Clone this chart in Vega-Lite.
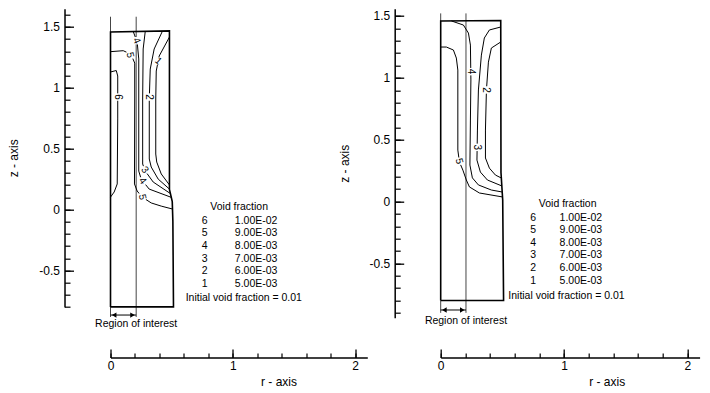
{
  "$schema": "https://vega.github.io/schema/vega-lite/v6.json",
  "padding": {"left": 7.5, "top": 8.7, "right": 0, "bottom": 0},
  "background": "white",
  "bounds": "flush",
  "spacing": 73.2,
  "config": {
    "view": {"stroke": null},
    "font": "Liberation Sans",
    "axis": {"grid": false, "domainColor": "black", "tickColor": "black", "labelColor": "black", "titleColor": "black", "titleFontWeight": "normal", "labelFont": "Liberation Sans", "titleFont": "Liberation Sans", "labelOverlap": false, "labelFlush": false}
  },
  "datasets": {
    "Lbox": [
      {"i": 0, "r": 0, "z": -0.8}, {"i": 1, "r": 0, "z": 1.458}, {"i": 2, "r": 0.482, "z": 1.468}, {"i": 3, "r": 0.482, "z": 0.166},
      {"i": 4, "r": 0.505, "z": 0.065}, {"i": 5, "r": 0.51, "z": -0.097}, {"i": 6, "r": 0.515, "z": -0.8}, {"i": 7, "r": 0, "z": -0.8}
    ],
    "Lc": [
      {"c": 1, "i": 0, "r": 0.482, "z": 1.417}, {"c": 1, "i": 1, "r": 0.398, "z": 1.261}, {"c": 1, "i": 2, "r": 0.374, "z": 1.138}, {"c": 1, "i": 3, "r": 0.37, "z": 0.908},
      {"c": 1, "i": 4, "r": 0.37, "z": 0.456}, {"c": 1, "i": 5, "r": 0.378, "z": 0.39}, {"c": 1, "i": 6, "r": 0.415, "z": 0.292}, {"c": 1, "i": 7, "r": 0.482, "z": 0.202},
      {"c": 2, "i": 0, "r": 0.423, "z": 1.462}, {"c": 2, "i": 1, "r": 0.357, "z": 1.319}, {"c": 2, "i": 2, "r": 0.325, "z": 1.154}, {"c": 2, "i": 3, "r": 0.317, "z": 0.908},
      {"c": 2, "i": 4, "r": 0.317, "z": 0.415}, {"c": 2, "i": 5, "r": 0.333, "z": 0.349}, {"c": 2, "i": 6, "r": 0.39, "z": 0.25}, {"c": 2, "i": 7, "r": 0.482, "z": 0.168},
      {"c": 3, "i": 0, "r": 0.284, "z": 1.463}, {"c": 3, "i": 1, "r": 0.267, "z": 1.319}, {"c": 3, "i": 2, "r": 0.263, "z": 0.908}, {"c": 3, "i": 3, "r": 0.263, "z": 0.374},
      {"c": 3, "i": 4, "r": 0.284, "z": 0.316}, {"c": 3, "i": 5, "r": 0.349, "z": 0.226}, {"c": 3, "i": 6, "r": 0.49, "z": 0.131},
      {"c": 4, "i": 0, "r": 0.186, "z": 1.462}, {"c": 4, "i": 1, "r": 0.218, "z": 1.376}, {"c": 4, "i": 2, "r": 0.231, "z": 1.237}, {"c": 4, "i": 3, "r": 0.231, "z": 0.908},
      {"c": 4, "i": 4, "r": 0.231, "z": 0.316}, {"c": 4, "i": 5, "r": 0.251, "z": 0.25}, {"c": 4, "i": 6, "r": 0.316, "z": 0.168}, {"c": 4, "i": 7, "r": 0.497, "z": 0.1},
      {"c": 5, "i": 0, "r": 0, "z": 1.297}, {"c": 5, "i": 1, "r": 0.104, "z": 1.305}, {"c": 5, "i": 2, "r": 0.145, "z": 1.286}, {"c": 5, "i": 3, "r": 0.177, "z": 1.253},
      {"c": 5, "i": 4, "r": 0.198, "z": 1.203}, {"c": 5, "i": 5, "r": 0.198, "z": 0.908}, {"c": 5, "i": 6, "r": 0.196, "z": 0.21}, {"c": 5, "i": 7, "r": 0.218, "z": 0.152},
      {"c": 5, "i": 8, "r": 0.259, "z": 0.102}, {"c": 5, "i": 9, "r": 0.333, "z": 0.054}, {"c": 5, "i": 10, "r": 0.415, "z": 0.028}, {"c": 5, "i": 11, "r": 0.507, "z": 0.004},
      {"c": 6, "i": 0, "r": 0, "z": 1.13}, {"c": 6, "i": 1, "r": 0.047, "z": 1.142}, {"c": 6, "i": 2, "r": 0.059, "z": 1.097}, {"c": 6, "i": 3, "r": 0.059, "z": 0.744},
      {"c": 6, "i": 4, "r": 0.055, "z": 0.21}, {"c": 6, "i": 5, "r": 0.03, "z": 0.144}, {"c": 6, "i": 6, "r": 0, "z": 0.102}
    ],
    "Lv": [
      {"r": 0, "z": 1.458, "z2": 1.584}, {"r": 0.21, "z": -0.883, "z2": 1.584}, {"r": 0, "z": -0.883, "z2": -0.8}
    ],
    "Lbr": [{"r": 0, "r2": 0.21, "z": -0.867}],
    "Larr": [{"r": 0.03, "z": -0.867, "end": "left"}, {"r": 0.18, "z": -0.867, "end": "right"}],
    "Llab": [
      {"t": "6", "r": 0.058, "z": 0.924, "a": "v"}, {"t": "5", "r": 0.16, "z": 1.27, "a": "d"}, {"t": "4", "r": 0.214, "z": 1.387, "a": "s"},
      {"t": "1", "r": 0.39, "z": 1.22, "a": "u"}, {"t": "2", "r": 0.318, "z": 0.924, "a": "v"}, {"t": "3", "r": 0.28, "z": 0.326, "a": "b"},
      {"t": "4", "r": 0.262, "z": 0.235, "a": "b"}, {"t": "5", "r": 0.259, "z": 0.102, "a": "d"}
    ],
    "Ltxt": [
      {"t": "Void fraction", "r": 1.052, "z": 0.021},
      {"t": "6", "r": 0.77, "z": -0.095}, {"t": "5", "r": 0.77, "z": -0.197}, {"t": "4", "r": 0.77, "z": -0.3},
      {"t": "3", "r": 0.77, "z": -0.403}, {"t": "2", "r": 0.77, "z": -0.505}, {"t": "1", "r": 0.77, "z": -0.608},
      {"t": "1.00E-02", "r": 1.191, "z": -0.095}, {"t": "9.00E-03", "r": 1.191, "z": -0.197}, {"t": "8.00E-03", "r": 1.191, "z": -0.3},
      {"t": "7.00E-03", "r": 1.191, "z": -0.403}, {"t": "6.00E-03", "r": 1.191, "z": -0.505}, {"t": "5.00E-03", "r": 1.191, "z": -0.608},
      {"t": "Initial void fraction = 0.01", "r": 1.09, "z": -0.727},
      {"t": "Region of interest", "r": 0.21, "z": -0.94}
    ],
    "Rbox": [
      {"i": 0, "r": 0, "z": -0.8}, {"i": 1, "r": 0, "z": 1.46}, {"i": 2, "r": 0.487, "z": 1.463}, {"i": 3, "r": 0.489, "z": 0.235},
      {"i": 4, "r": 0.503, "z": 0.012}, {"i": 5, "r": 0.51, "z": -0.8}, {"i": 6, "r": 0, "z": -0.8}
    ],
    "Rc": [
      {"c": 2, "i": 0, "r": 0.487, "z": 1.29}, {"c": 2, "i": 1, "r": 0.411, "z": 1.241}, {"c": 2, "i": 2, "r": 0.387, "z": 1.127}, {"c": 2, "i": 3, "r": 0.371, "z": 0.902},
      {"c": 2, "i": 4, "r": 0.363, "z": 0.578}, {"c": 2, "i": 5, "r": 0.363, "z": 0.352}, {"c": 2, "i": 6, "r": 0.395, "z": 0.27}, {"c": 2, "i": 7, "r": 0.444, "z": 0.214},
      {"c": 2, "i": 8, "r": 0.492, "z": 0.19},
      {"c": 3, "i": 0, "r": 0.487, "z": 1.411}, {"c": 3, "i": 1, "r": 0.395, "z": 1.387}, {"c": 3, "i": 2, "r": 0.354, "z": 1.322}, {"c": 3, "i": 3, "r": 0.33, "z": 1.184},
      {"c": 3, "i": 4, "r": 0.306, "z": 0.902}, {"c": 3, "i": 5, "r": 0.298, "z": 0.578}, {"c": 3, "i": 6, "r": 0.294, "z": 0.335}, {"c": 3, "i": 7, "r": 0.322, "z": 0.238},
      {"c": 3, "i": 8, "r": 0.379, "z": 0.174}, {"c": 3, "i": 9, "r": 0.496, "z": 0.126},
      {"c": 4, "i": 0, "r": 0.087, "z": 1.46}, {"c": 4, "i": 1, "r": 0.184, "z": 1.427}, {"c": 4, "i": 2, "r": 0.225, "z": 1.362}, {"c": 4, "i": 3, "r": 0.241, "z": 1.265},
      {"c": 4, "i": 4, "r": 0.245, "z": 0.983}, {"c": 4, "i": 5, "r": 0.241, "z": 0.659}, {"c": 4, "i": 6, "r": 0.237, "z": 0.295}, {"c": 4, "i": 7, "r": 0.257, "z": 0.191},
      {"c": 4, "i": 8, "r": 0.306, "z": 0.134}, {"c": 4, "i": 9, "r": 0.411, "z": 0.093}, {"c": 4, "i": 10, "r": 0.499, "z": 0.077},
      {"c": 5, "i": 0, "r": 0, "z": 1.249}, {"c": 5, "i": 1, "r": 0.046, "z": 1.249}, {"c": 5, "i": 2, "r": 0.103, "z": 1.225}, {"c": 5, "i": 3, "r": 0.127, "z": 1.16},
      {"c": 5, "i": 4, "r": 0.139, "z": 1.063}, {"c": 5, "i": 5, "r": 0.139, "z": 0.416}, {"c": 5, "i": 6, "r": 0.152, "z": 0.319}, {"c": 5, "i": 7, "r": 0.18, "z": 0.254},
      {"c": 5, "i": 8, "r": 0.208, "z": 0.174}, {"c": 5, "i": 9, "r": 0.233, "z": 0.118}, {"c": 5, "i": 10, "r": 0.314, "z": 0.069}, {"c": 5, "i": 11, "r": 0.501, "z": 0.037}
    ],
    "Rv": [
      {"r": 0, "z": 1.46, "z2": 1.521}, {"r": 0.205, "z": -0.9, "z2": 1.521}, {"r": 0, "z": -0.9, "z2": -0.8}
    ],
    "Rbr": [{"r": 0, "r2": 0.205, "z": -0.877}],
    "Rarr": [{"r": 0.03, "z": -0.877, "end": "left"}, {"r": 0.175, "z": -0.877, "end": "right"}],
    "Rlab": [
      {"t": "4", "r": 0.245, "z": 1.05, "a": "v"}, {"t": "2", "r": 0.37, "z": 0.902, "a": "v"},
      {"t": "3", "r": 0.296, "z": 0.438, "a": "v"}, {"t": "5", "r": 0.15, "z": 0.326, "a": "s"}
    ],
    "Rtxt": [
      {"t": "Void fraction", "r": 1.03, "z": -0.02},
      {"t": "6", "r": 0.75, "z": -0.133}, {"t": "5", "r": 0.75, "z": -0.234}, {"t": "4", "r": 0.75, "z": -0.335},
      {"t": "3", "r": 0.75, "z": -0.436}, {"t": "2", "r": 0.75, "z": -0.538}, {"t": "1", "r": 0.75, "z": -0.639},
      {"t": "1.00E-02", "r": 1.137, "z": -0.133}, {"t": "9.00E-03", "r": 1.137, "z": -0.234}, {"t": "8.00E-03", "r": 1.137, "z": -0.335},
      {"t": "7.00E-03", "r": 1.137, "z": -0.436}, {"t": "6.00E-03", "r": 1.137, "z": -0.538}, {"t": "5.00E-03", "r": 1.137, "z": -0.639},
      {"t": "Initial void fraction = 0.01", "r": 1.02, "z": -0.764},
      {"t": "Region of interest", "r": 0.205, "z": -0.966}
    ]
  },
  "hconcat": [
    {
      "width": 256.8,
      "height": 298.2,
      "encoding": {
        "x": {"field": "r", "type": "quantitative", "scale": {"domain": [0, 2.1], "nice": false, "zero": false}, "axis": null},
        "y": {"field": "z", "type": "quantitative", "scale": {"domain": [-0.8, 1.65], "nice": false, "zero": false}, "axis": null}
      },
      "resolve": {"scale": {"x": "independent", "y": "independent"}, "axis": {"x": "independent", "y": "independent"}},
      "layer": [
        {"data": {"name": "Lv"}, "mark": {"type": "rule", "color": "#444", "strokeWidth": 1},
          "encoding": {
            "x": {"field": "r", "type": "quantitative", "scale": {"domain": [0, 2.1], "nice": false, "zero": false},
              "axis": {"orient": "bottom", "offset": 50.5, "values": [0, 0.2, 0.4, 0.6, 0.8, 1, 1.2, 1.4, 1.6, 1.8, 2], "ticks": true, "tickSize": -4.5, "labels": true, "labelExpr": "''", "labelPadding": 0, "title": null, "domainWidth": 1.5, "tickWidth": 1.2, "tickOpacity": 1}},
            "y": {"field": "z", "type": "quantitative", "scale": {"domain": [-0.8, 1.65], "nice": false, "zero": false},
              "axis": {"orient": "left", "offset": 46, "values": [-0.8, -0.7, -0.6, -0.5, -0.4, -0.3, -0.2, -0.1, 0, 0.1, 0.2, 0.3, 0.4, 0.5, 0.6, 0.7, 0.8, 0.9, 1, 1.1, 1.2, 1.3, 1.4, 1.5, 1.6], "ticks": true, "tickSize": -5.5, "labels": true, "labelExpr": "''", "labelPadding": 0, "title": null, "domainWidth": 1.5, "tickWidth": 1.2, "tickOpacity": 1}},
            "y2": {"field": "z2"}
          }},
        {"data": {"name": "Lc"}, "mark": {"type": "line", "color": "black", "strokeWidth": 1}, "encoding": {"detail": {"field": "c", "type": "nominal"}, "order": {"field": "i", "type": "quantitative"}}},
        {"data": {"name": "Lbox"}, "mark": {"type": "line", "color": "black", "strokeWidth": 1.6},
          "encoding": {
            "x": {"field": "r", "type": "quantitative", "scale": {"domain": [0, 2.1], "nice": false, "zero": false},
              "axis": {"orient": "bottom", "offset": 50.5, "values": [0, 1, 2], "tickSize": -8.5, "domain": false, "labelExpr": "toString(datum.value)", "labelFontSize": 12, "labelPadding": 11.5, "tickWidth": 1.3,
                "title": "r - axis", "titleFontSize": 12, "titleX": 168, "titleY": 24, "titleBaseline": "middle", "titleAlign": "center"}},
            "y": {"field": "z", "type": "quantitative", "scale": {"domain": [-0.8, 1.65], "nice": false, "zero": false},
              "axis": {"orient": "left", "offset": 46, "values": [-0.5, 0, 0.5, 1, 1.5], "tickSize": -9, "domain": false, "labelExpr": "toString(datum.value)", "labelFontSize": 12, "labelPadding": 14, "tickWidth": 1.3,
                "title": "z - axis", "titleFontSize": 12, "titlePadding": 18}},
            "order": {"field": "i", "type": "quantitative"}
          }},
        {"data": {"name": "Lbr"}, "mark": {"type": "rule", "color": "black", "strokeWidth": 1}, "encoding": {"x2": {"field": "r2"}}},
        {"data": {"name": "Larr"}, "mark": {"type": "point", "filled": true, "color": "black", "size": 28, "opacity": 1},
          "encoding": {"shape": {"field": "end", "type": "nominal", "scale": {"domain": ["left", "right"], "range": ["triangle-left", "triangle-right"]}, "legend": null}}},
        {"data": {"name": "Llab"}, "mark": {"type": "square", "color": "white", "size": 55, "opacity": 1}},
        {"data": {"name": "Llab"}, "mark": {"type": "text", "fontSize": 10, "color": "black", "align": "center", "baseline": "middle"},
          "encoding": {"text": {"field": "t"}, "angle": {"field": "a", "type": "nominal", "scale": {"domain": ["v", "d", "s", "b", "u"], "range": [90, 40, 70, 60, 295]}, "legend": null}}},
        {"data": {"name": "Ltxt"}, "mark": {"type": "text", "fontSize": 10.5, "color": "black", "align": "center", "baseline": "middle"}, "encoding": {"text": {"field": "t"}}}
      ]
    },
    {
      "width": 258.9,
      "height": 309.1,
      "encoding": {
        "x": {"field": "r", "type": "quantitative", "scale": {"domain": [0, 2.1], "nice": false, "zero": false}, "axis": null},
        "y": {"field": "z", "type": "quantitative", "scale": {"domain": [-0.94, 1.559], "nice": false, "zero": false}, "axis": null}
      },
      "resolve": {"scale": {"x": "independent", "y": "independent"}, "axis": {"x": "independent", "y": "independent"}},
      "layer": [
        {"data": {"name": "Rv"}, "mark": {"type": "rule", "color": "#444", "strokeWidth": 1},
          "encoding": {
            "x": {"field": "r", "type": "quantitative", "scale": {"domain": [0, 2.1], "nice": false, "zero": false},
              "axis": {"orient": "bottom", "offset": 39.7, "values": [0, 0.2, 0.4, 0.6, 0.8, 1, 1.2, 1.4, 1.6, 1.8, 2], "ticks": true, "tickSize": -4.5, "labels": true, "labelExpr": "''", "labelPadding": 0, "title": null, "domainWidth": 1.5, "tickWidth": 1.2, "tickOpacity": 1}},
            "y": {"field": "z", "type": "quantitative", "scale": {"domain": [-0.94, 1.559], "nice": false, "zero": false},
              "axis": {"orient": "left", "offset": 46, "values": [-0.9, -0.8, -0.7, -0.6, -0.5, -0.4, -0.3, -0.2, -0.1, 0, 0.1, 0.2, 0.3, 0.4, 0.5, 0.6, 0.7, 0.8, 0.9, 1, 1.1, 1.2, 1.3, 1.4, 1.5], "ticks": true, "tickSize": -5.5, "labels": true, "labelExpr": "''", "labelPadding": 0, "title": null, "domainWidth": 1.5, "tickWidth": 1.2, "tickOpacity": 1}},
            "y2": {"field": "z2"}
          }},
        {"data": {"name": "Rc"}, "mark": {"type": "line", "color": "black", "strokeWidth": 1}, "encoding": {"detail": {"field": "c", "type": "nominal"}, "order": {"field": "i", "type": "quantitative"}}},
        {"data": {"name": "Rbox"}, "mark": {"type": "line", "color": "black", "strokeWidth": 1.6},
          "encoding": {
            "x": {"field": "r", "type": "quantitative", "scale": {"domain": [0, 2.1], "nice": false, "zero": false},
              "axis": {"orient": "bottom", "offset": 39.7, "values": [0, 1, 2], "tickSize": -8.5, "domain": false, "labelExpr": "toString(datum.value)", "labelFontSize": 12, "labelPadding": 11.5, "tickWidth": 1.3,
                "title": "r - axis", "titleFontSize": 12, "titleX": 166, "titleY": 24, "titleBaseline": "middle", "titleAlign": "center"}},
            "y": {"field": "z", "type": "quantitative", "scale": {"domain": [-0.94, 1.559], "nice": false, "zero": false},
              "axis": {"orient": "left", "offset": 46, "values": [-0.5, 0, 0.5, 1, 1.5], "tickSize": -9, "domain": false, "labelExpr": "toString(datum.value)", "labelFontSize": 12, "labelPadding": 14, "tickWidth": 1.3,
                "title": "z - axis", "titleFontSize": 12, "titlePadding": 18}},
            "order": {"field": "i", "type": "quantitative"}
          }},
        {"data": {"name": "Rbr"}, "mark": {"type": "rule", "color": "black", "strokeWidth": 1}, "encoding": {"x2": {"field": "r2"}}},
        {"data": {"name": "Rarr"}, "mark": {"type": "point", "filled": true, "color": "black", "size": 28, "opacity": 1},
          "encoding": {"shape": {"field": "end", "type": "nominal", "scale": {"domain": ["left", "right"], "range": ["triangle-left", "triangle-right"]}, "legend": null}}},
        {"data": {"name": "Rlab"}, "mark": {"type": "square", "color": "white", "size": 55, "opacity": 1}},
        {"data": {"name": "Rlab"}, "mark": {"type": "text", "fontSize": 10, "color": "black", "align": "center", "baseline": "middle"},
          "encoding": {"text": {"field": "t"}, "angle": {"field": "a", "type": "nominal", "scale": {"domain": ["v", "s"], "range": [90, 75]}, "legend": null}}},
        {"data": {"name": "Rtxt"}, "mark": {"type": "text", "fontSize": 10.5, "color": "black", "align": "center", "baseline": "middle"}, "encoding": {"text": {"field": "t"}}}
      ]
    }
  ],
  "resolve": {"scale": {"shape": "independent", "angle": "independent"}}
}
